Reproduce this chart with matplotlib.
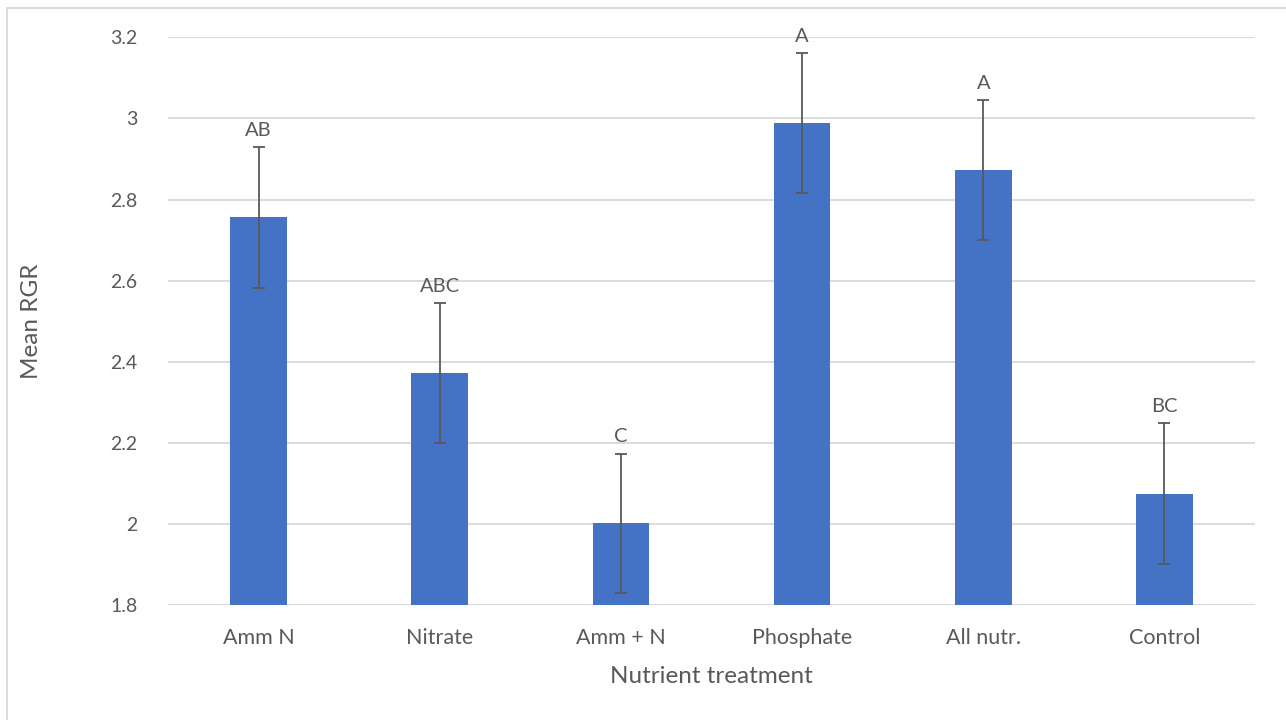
import matplotlib
matplotlib.use("Agg")
import matplotlib.pyplot as plt
from matplotlib.patches import Rectangle

# Mean relative growth rate per nutrient treatment, with error bars and letter groups
treatments = ["Amm N", "Nitrate", "Amm + N", "Phosphate", "All nutr.", "Control"]
mean_rgr = [2.756, 2.372, 2.002, 2.989, 2.873, 2.075]
rgr_error = [0.173, 0.172, 0.172, 0.172, 0.172, 0.174]
groups = ["AB", "ABC", "C", "A", "A", "BC"]

yticks = [1.8, 2.0, 2.2, 2.4, 2.6, 2.8, 3.0, 3.2]
ytick_labels = ["1.8", "2", "2.2", "2.4", "2.6", "2.8", "3", "3.2"]

BAR = "#4472C4"
TEXT = "#595959"
GRID = "#D9D9D9"

plt.rcParams["font.family"] = ["Lato", "DejaVu Sans"]

W, H = 1286, 720
fig = plt.figure(figsize=(W / 100, H / 100), dpi=100)
ax = fig.add_axes([168 / W, (H - 605.3) / H, (1255 - 168) / W, (605.3 - 37.3) / H])

x = list(range(len(treatments)))
base = yticks[0]
ax.bar(x, [m - base for m in mean_rgr], bottom=base, width=0.313,
       color=BAR, zorder=3)
ax.errorbar(x, mean_rgr, yerr=rgr_error, fmt="none", ecolor=TEXT,
            elinewidth=1.3, capsize=4.5, capthick=1.3, zorder=4)

for xi, m, e, g in zip(x, mean_rgr, rgr_error, groups):
    ax.annotate(g, (xi, m + e), xytext=(0, 6), textcoords="offset points",
                ha="center", va="bottom", fontsize=14.5, color=TEXT, zorder=5)

ax.set_xlim(-0.5, len(treatments) - 0.5)
ax.set_ylim(yticks[0], yticks[-1])
ax.set_yticks(yticks)
ax.set_yticklabels(ytick_labels)
ax.set_xticks(x)
ax.set_xticklabels(treatments)
ax.tick_params(axis="both", length=0, labelcolor=TEXT)
ax.tick_params(axis="y", pad=22, labelsize=14)
ax.tick_params(axis="x", pad=16, labelsize=15.5)
ax.yaxis.grid(True, color=GRID, linewidth=1.3, zorder=0)
ax.set_axisbelow(True)
for side in ["top", "right", "left", "bottom"]:
    ax.spines[side].set_visible(False)
ax.axhline(yticks[0], color=GRID, linewidth=1.3, zorder=2)

# axis titles
fig.text((168 + 1255) / 2 / W, 1 - 676.5 / H, "Nutrient treatment",
         ha="center", va="center", fontsize=17.5, color=TEXT)
fig.text(32 / W, 1 - 321 / H, "Mean RGR", rotation=90,
         ha="center", va="center", fontsize=17.5, color=TEXT)

# chart-area border
fig.patches.append(Rectangle((7 / W, -0.05), 1.1, 1.05 - 8 / H,
                             transform=fig.transFigure, fill=False,
                             edgecolor=GRID, linewidth=1.3))

fig.savefig("out.png", dpi=100, facecolor="white")
